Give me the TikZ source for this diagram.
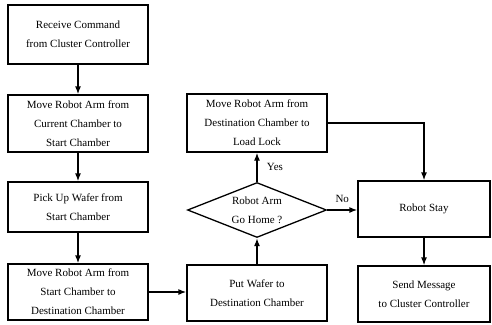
\documentclass[tikz,border=0pt]{standalone}
\usepackage{fontspec}
\setmainfont{Liberation Serif}
\usetikzlibrary{shapes.geometric,arrows.meta}

\begin{document}
\begin{tikzpicture}[x=1pt,y=-1pt,
  procbox/.style={draw, line width=1.3pt, minimum width=140pt, minimum height=57pt,
    inner sep=0pt, align=center, font=\fontsize{11}{19}\selectfont},
  decbox/.style={draw, diamond, line width=1.3pt, aspect=2.5, minimum width=139pt,
    minimum height=55pt, inner sep=0pt, align=center, font=\fontsize{11}{19}\selectfont},
  flow/.style={line width=1.3pt, -{Latex[length=8pt,width=6pt]}}]
  % Fix the page size
  \useasboundingbox (0,0) rectangle (492,324);

  % Left column
  \node[procbox, minimum height=59pt] (recv) at (78,34.5) {Receive Command\\from Cluster Controller};
  \node[procbox] (tostart) at (78,123.5) {Move Robot Arm from\\Current Chamber to\\Start Chamber};
  \node[procbox, minimum height=50pt] (pick) at (78,207) {Pick Up Wafer from\\Start Chamber};
  \node[procbox, minimum height=56pt] (todest) at (78,292) {Move Robot Arm from\\Start Chamber to\\Destination Chamber};

  % Middle column
  \node[procbox, minimum height=58pt] (toload) at (257,123) {Move Robot Arm from\\Destination Chamber to\\Load Lock};
  \node[decbox] (home) at (257,210) {Robot Arm\\Go Home ?};
  \node[procbox, minimum height=56pt] (put) at (257,293) {Put Wafer to\\Destination Chamber};

  % Right column
  \node[procbox, minimum width=132pt, minimum height=56pt] (stay) at (424,209) {Robot Stay};
  \node[procbox, minimum width=132pt, minimum height=56pt] (send) at (424,294) {Send Message\\to Cluster Controller};

  % Connectors
  \draw[flow] (recv) -- (tostart);
  \draw[flow] (tostart) -- (pick);
  \draw[flow] (pick) -- (todest);
  \draw[flow] (todest.east) -- (put.west |- todest.east);
  \draw[flow] (put) -- (home);
  \draw[flow] (home) -- node[right, xshift=6pt, font=\fontsize{11}{13}\selectfont] {Yes} (toload);
  \draw[flow] (home.east) -- node[above, yshift=3pt, font=\fontsize{11}{13}\selectfont] {No} (stay.west |- home.east);
  \draw[flow] (toload.east) -| (stay.north);
  \draw[flow] (stay) -- (send);
\end{tikzpicture}
\end{document}
